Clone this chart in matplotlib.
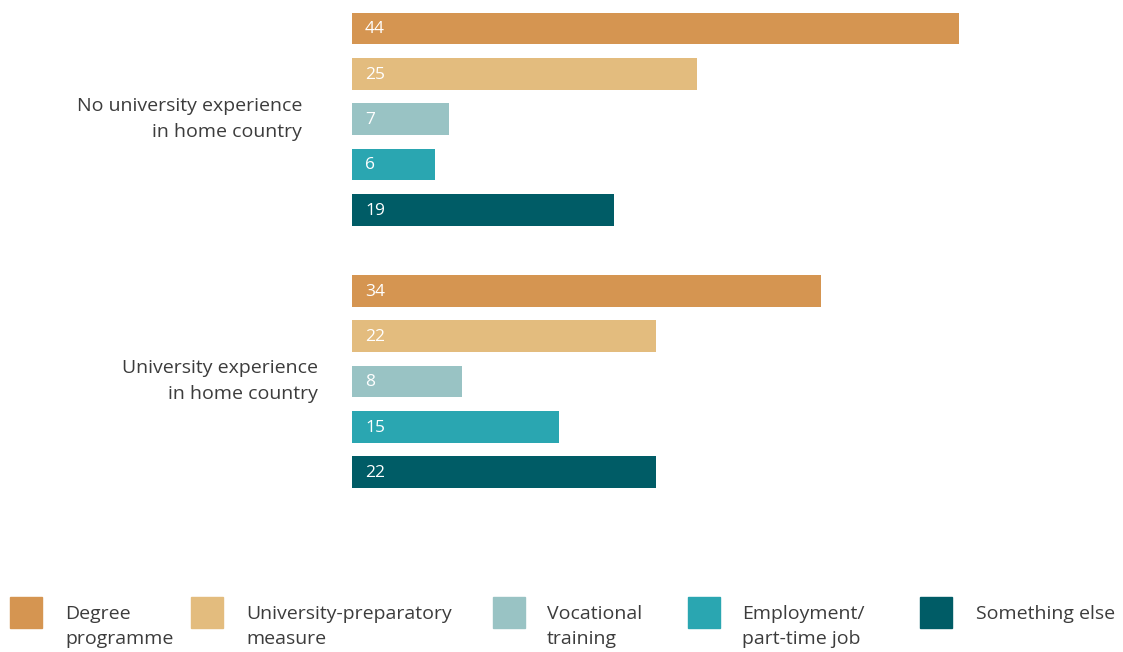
import numpy as np
import matplotlib.pyplot as plt
from matplotlib.patches import Rectangle

plt.rcParams['font.family'] = ['Open Sans', 'DejaVu Sans']

# data
groups = ['No university experience\nin home country', 'University experience\nin home country']
categories = ['Degree\nprogramme', 'University-preparatory\nmeasure', 'Vocational\ntraining',
              'Employment/\npart-time job', 'Something else']
values_no_uni = [44, 25, 7, 6, 19]
values_uni = [34, 22, 8, 15, 22]
colors = ['#D59551', '#E3BC7E', '#99C3C4', '#2AA6B1', '#005C66']
text_color = '#3C3C3C'

W, H = 1123, 652
fig = plt.figure(figsize=(W / 100, H / 100), dpi=100)

# axes placed in pixel terms: left edge at x=352, top at y=0
ax_l, ax_r, ax_t, ax_b = 352, 1111, 0, 520
ax = fig.add_axes([ax_l / W, 1 - ax_b / H, (ax_r - ax_l) / W, (ax_b - ax_t) / H])

step = 45.3  # px per bar slot
group_offset = 5.79
bar_h = 0.7

for gi, vals in enumerate([values_no_uni, values_uni]):
    ys = np.arange(len(vals)) + gi * group_offset
    ax.barh(ys, vals, height=bar_h, color=colors, zorder=2)
    for y, v in zip(ys, vals):
        ax.text(0.95, y + 0.02, str(v), color='white', fontsize=12.5, va='center', ha='left')

ax.set_xlim(0, (ax_r - ax_l) / 13.8)
ax.set_ylim((ax_b - 28.5) / step, -28.5 / step)
ax.axis('off')

# group labels
fig.text(302 / W, 1 - 119 / H, groups[0], ha='right', va='center', fontsize=14,
         color=text_color, multialignment='right', linespacing=1.62)
fig.text(318 / W, 1 - 381 / H, groups[1], ha='right', va='center', fontsize=14,
         color=text_color, multialignment='right', linespacing=1.62)

# legend
sq_x = [10, 191, 493, 688, 920]
tx_x = [65, 246, 547, 742, 976]
for c, lab, sx, tx in zip(colors, categories, sq_x, tx_x):
    fig.patches.append(Rectangle((sx / W, 1 - 628 / H), 32 / W, 31 / H,
                                 transform=fig.transFigure, color=c, figure=fig))
    fig.text(tx / W, 1 - 605 / H, lab, ha='left', va='top', fontsize=14,
             color=text_color, linespacing=1.5)

fig.savefig('out.png', dpi=100)
